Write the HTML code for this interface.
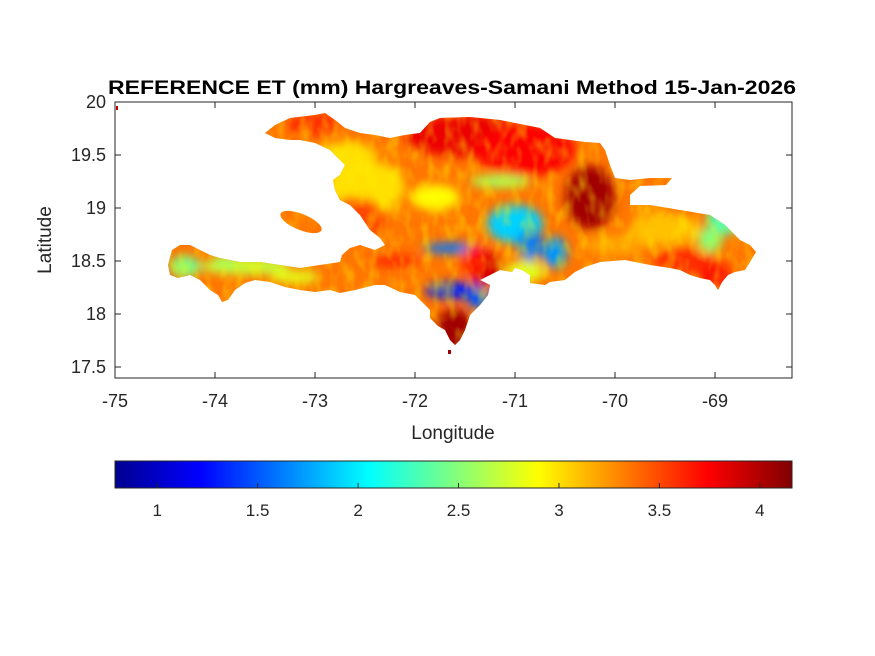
<!DOCTYPE html>
<html><head><meta charset="utf-8"><style>
html,body{margin:0;padding:0;background:#fff;}
svg{display:block;font-family:"Liberation Sans",Arial,sans-serif;}
</style></head><body>
<svg id="fig" width="875" height="656" viewBox="0 0 875 656">
<defs>
  <clipPath id="landclip"><path id="landpath" d=""/><ellipse cx="301" cy="222" rx="22" ry="8" transform="rotate(22 301 222)"/></clipPath>
  <filter id="blur" x="-20%" y="-20%" width="140%" height="140%"><feGaussianBlur stdDeviation="5"/></filter>
  <filter id="noise"><feTurbulence type="fractalNoise" baseFrequency="0.09 0.05" numOctaves="2" seed="4"/><feColorMatrix type="matrix" values="0 0 0 0 1  0 0 0 0 0.9  0 0 0 0 0  0 0 0 -2.2 1.3"/></filter>
  <linearGradient id="jet" x1="0" x2="1" y1="0" y2="0">
    <stop offset="0" stop-color="#00008f"/><stop offset="0.125" stop-color="#0000ff"/>
    <stop offset="0.375" stop-color="#00ffff"/><stop offset="0.625" stop-color="#ffff00"/>
    <stop offset="0.875" stop-color="#ff0000"/><stop offset="1" stop-color="#800000"/>
  </linearGradient>
</defs>
<text x="452" y="94" text-anchor="middle" font-size="19" font-weight="bold" textLength="688" lengthAdjust="spacingAndGlyphs">REFERENCE ET (mm) Hargreaves-Samani Method  15-Jan-2026</text>
<g id="map"></g>
<rect x="115" y="102" width="677" height="276" fill="none" stroke="#262626" stroke-width="1"/>
<g id="axes"></g>
<text x="453" y="439" text-anchor="middle" font-size="19" fill="#262626">Longitude</text>
<text transform="translate(51 240) rotate(-90)" text-anchor="middle" font-size="19" fill="#262626">Latitude</text>
<rect x="115" y="461" width="677" height="27" fill="url(#jet)" stroke="#262626" stroke-width="1"/>
<g id="cbar"></g>
</svg>
<script>
const xTicks=[-75,-74,-73,-72,-71,-70,-69];
const yTicks=[20,19.5,19,18.5,18,17.5];
const cbTicks=[1,1.5,2,2.5,3,3.5,4];
const cbMin=0.79, cbMax=4.16;
const baseValue=3.35;
// ET patches: lon, lat, value, extents (deg)
const patchLon=[-71.5,-70.9,-73.0,-70.25,-71.6,-71.3,-71.6,-71.62,-71.0,-70.6,-68.9,-72.5,-73.7,-74.3,-69.5,-70.9,-72.6,-69.3,-72.7,-71.8,-70.0,-69.0,-73.2,-70.85,-71.35,-71.15,-69.05,-72.2,-73.9,-71.4];
const patchLat=[19.68,19.55,19.78,19.1,17.85,18.4,18.22,18.62,18.85,18.58,18.9,19.2,18.45,18.45,18.8,18.4,18.9,18.5,19.5,19.1,18.65,18.35,18.35,18.65,18.14,19.25,18.7,18.5,18.5,18.5];
const patchVal=[3.8,3.75,3.6,4.05,4.05,3.9,1.3,1.6,1.9,1.7,2.3,3.0,2.7,2.4,3.1,2.8,3.5,3.6,3.0,2.9,3.2,3.7,2.8,1.6,1.5,2.6,2.5,3.6,2.6,3.7];
const patchRx=[0.6,0.5,0.3,0.25,0.2,0.15,0.3,0.3,0.28,0.12,0.18,0.4,0.45,0.15,0.35,0.2,0.3,0.3,0.3,0.25,0.3,0.15,0.25,0.12,0.12,0.3,0.12,0.25,0.12,0.12];
const patchRy=[0.2,0.25,0.1,0.3,0.2,0.2,0.08,0.05,0.18,0.15,0.15,0.25,0.08,0.1,0.15,0.1,0.2,0.12,0.12,0.12,0.1,0.15,0.06,0.15,0.1,0.06,0.12,0.06,0.06,0.15];

const NS='http://www.w3.org/2000/svg';
const xS=lon=>115+(lon+75)*100;
const yS=lat=>102+(20-lat)*106;
function jet(v){let t=(v-cbMin)/(cbMax-cbMin);t=Math.max(0,Math.min(1,t));
 const r=Math.max(0,Math.min(1,Math.min(4*t-1.5,-4*t+4.5)));
 const g=Math.max(0,Math.min(1,Math.min(4*t-0.5,-4*t+3.5)));
 const b=Math.max(0,Math.min(1,Math.min(4*t+0.5,-4*t+2.5)));
 return `rgb(${Math.round(r*255)},${Math.round(g*255)},${Math.round(b*255)})`;}
function mk(tag,at,parent){const e=document.createElementNS(NS,tag);for(const k in at)e.setAttribute(k,at[k]);parent.appendChild(e);return e;}

const outline=[[265,133],[275,125],[290,118],[315,115],[325,113],[335,120],[345,128],[360,133],[375,135],[390,138],[405,135],[420,133],[430,122],[440,118],[470,117],[500,120],[520,124],[540,128],[555,138],[570,140],[585,142],[600,143],[605,150],[610,165],[615,178],[630,180],[650,178],[672,178],[666,185],[640,186],[630,195],[630,205],[650,205],[680,210],[710,215],[725,225],[740,240],[750,245],[756,252],[750,262],[745,270],[735,272],[728,275],[722,282],[718,290],[715,285],[710,280],[700,278],[690,275],[680,270],[670,268],[650,265],[635,262],[625,260],[600,262],[585,267],[575,272],[565,280],[550,282],[545,285],[530,283],[530,275],[522,270],[515,268],[512,272],[500,270],[490,275],[480,280],[490,285],[488,295],[480,305],[470,315],[465,330],[460,340],[455,345],[450,340],[445,330],[438,326],[430,318],[430,310],[420,300],[415,295],[400,292],[385,285],[375,285],[355,290],[340,293],[330,290],[315,292],[300,290],[285,287],[270,282],[255,280],[245,283],[235,290],[228,300],[222,302],[218,295],[210,290],[200,280],[190,275],[178,278],[170,275],[168,265],[172,250],[180,245],[190,245],[200,250],[210,255],[220,258],[240,262],[260,262],[280,265],[300,268],[320,265],[340,262],[342,255],[350,248],[360,245],[375,250],[385,245],[380,238],[370,230],[360,215],[350,205],[340,200],[335,190],[333,180],[340,175],[345,165],[340,160],[330,150],[315,143],[300,140],[290,140],[275,138]];
document.getElementById('landpath').setAttribute('d','M'+outline.map(p=>p.join(',')).join('L')+'Z');

const map=document.getElementById('map');
const g=mk('g',{'clip-path':'url(#landclip)'},map);
const base=mk('rect',{x:115,y:102,width:677,height:276,fill:jet(baseValue)},g);


const bg=mk('g',{filter:'url(#blur)'},g);
for(let i=0;i<patchVal.length;i++){
 const e=mk('ellipse',{cx:xS(patchLon[i]),cy:yS(patchLat[i]),rx:patchRx[i]*100,ry:patchRy[i]*106,fill:jet(patchVal[i])},bg);
 
 
}
const nz=mk('rect',{x:115,y:102,width:677,height:276,filter:'url(#noise)',opacity:0.45},g);


const sp1=mk('rect',{x:448,y:350,width:3,height:4,fill:'#a00000'},map);


const sp2=mk('rect',{x:116,y:106,width:2,height:4,fill:'#c00000'},map);



const ax=document.getElementById('axes');
xTicks.forEach(v=>{const x=xS(v);
 mk('line',{x1:x,x2:x,y1:102,y2:108,stroke:'#262626'},ax);
 mk('line',{x1:x,x2:x,y1:378,y2:372,stroke:'#262626'},ax);
 const t=mk('text',{x:x,y:407,'text-anchor':'middle','font-size':18,fill:'#262626'},ax);t.textContent=v;
 
 });
yTicks.forEach(v=>{const y=yS(v);
 mk('line',{x1:115,x2:121,y1:y,y2:y,stroke:'#262626'},ax);
 mk('line',{x1:792,x2:786,y1:y,y2:y,stroke:'#262626'},ax);
 const t=mk('text',{x:106,y:y+6,'text-anchor':'end','font-size':18,fill:'#262626'},ax);t.textContent=v;
 
 });
const cb=document.getElementById('cbar');
cbTicks.forEach(v=>{const x=115+(v-cbMin)/(cbMax-cbMin)*677;
 mk('line',{x1:x,x2:x,y1:488,y2:483,stroke:'#262626'},cb);
 const t=mk('text',{x:x,y:516,'text-anchor':'middle','font-size':17,fill:'#262626'},cb);t.textContent=v;
 
 });
</script>
</body></html>
